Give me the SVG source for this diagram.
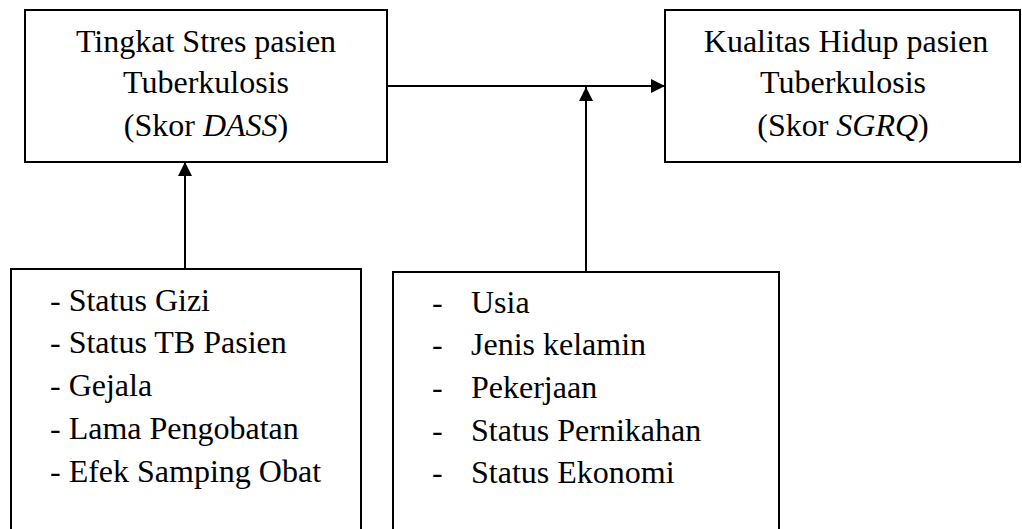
<svg xmlns="http://www.w3.org/2000/svg" width="1022" height="529" viewBox="0 0 1022 529">
<style>
.box{fill:#fff;stroke:#000;stroke-width:2}
.t{font-family:'Liberation Serif','Times New Roman',serif;font-size:32px;fill:#000}
.c{text-anchor:middle}
.ln{stroke:#000;stroke-width:2;fill:none}
</style>
<defs>
<marker id="ah" viewBox="0 0 14 14" refX="14" refY="7" markerWidth="14" markerHeight="14" markerUnits="userSpaceOnUse" orient="auto">
<path d="M0,0 L14,7 L0,14 Z" fill="#000"/>
</marker>
</defs>
<rect width="1022" height="529" fill="#fff"/>
<g id="connectors">
<line class="ln" x1="387" y1="86" x2="665" y2="86" marker-end="url(#ah)"/>
<line class="ln" x1="185" y1="269" x2="185" y2="162" marker-end="url(#ah)"/>
<line class="ln" x1="586" y1="272" x2="586" y2="87" marker-end="url(#ah)"/>
</g>
<g id="node-stres">
<rect class="box" x="25" y="10" width="362" height="152"/>
<text class="t c" x="206" y="52">Tingkat Stres pasien</text>
<text class="t c" x="206" y="93">Tuberkulosis</text>
<text class="t c" x="206" y="136">(Skor <tspan font-style="italic">DASS</tspan>)</text>
</g>
<g id="node-kualitas">
<rect class="box" x="665" y="10" width="355" height="152"/>
<text class="t c" x="846" y="52">Kualitas Hidup pasien</text>
<text class="t c" x="843" y="93">Tuberkulosis</text>
<text class="t c" x="843" y="136">(Skor <tspan font-style="italic">SGRQ</tspan>)</text>
</g>
<g id="node-faktor-klinis">
<rect class="box" x="11" y="269" width="350" height="280"/>
<text class="t" x="50" y="311">- Status Gizi</text>
<text class="t" x="50" y="353">- Status TB Pasien</text>
<text class="t" x="50" y="396">- Gejala</text>
<text class="t" x="50" y="439">- Lama Pengobatan</text>
<text class="t" x="50" y="482">- Efek Samping Obat</text>
</g>
<g id="node-faktor-demografi">
<rect class="box" x="393" y="272" width="386" height="280"/>
<text class="t" x="432" y="313">-</text>
<text class="t" x="471" y="313">Usia</text>
<text class="t" x="432" y="355">-</text>
<text class="t" x="471" y="355">Jenis kelamin</text>
<text class="t" x="432" y="398">-</text>
<text class="t" x="471" y="398">Pekerjaan</text>
<text class="t" x="432" y="441">-</text>
<text class="t" x="471" y="441">Status Pernikahan</text>
<text class="t" x="432" y="483">-</text>
<text class="t" x="471" y="483">Status Ekonomi</text>
</g>
</svg>
